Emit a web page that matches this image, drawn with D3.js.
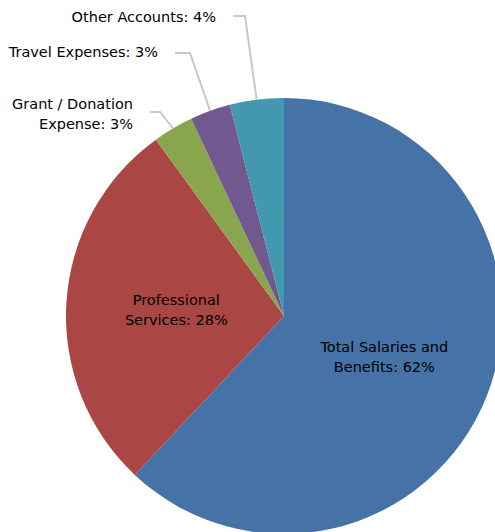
<!DOCTYPE html>
<html>
<head>
<meta charset="utf-8">
<script src="https://cdn.jsdelivr.net/npm/d3@7"></script>
<style>
  html, body { margin: 0; padding: 0; background: #fff; overflow: hidden; }
  svg text { font-family: "DejaVu Sans", Verdana, sans-serif; font-size: 14.5px; fill: #000; }
</style>
</head>
<body>
<svg id="chart" width="495" height="532"></svg>
<script>
// slices, clockwise from 12 o'clock
const categories = ['Total Salaries and Benefits', 'Professional Services', 'Grant / Donation Expense', 'Travel Expenses', 'Other Accounts'];
const values = [62, 28, 3, 3, 4];
const colors = ['#4572A7', '#AA4643', '#89A54E', '#71588F', '#4198AF'];
// label lines as drawn (split where the original wraps)
const labelLines = [
  ['Total Salaries and', 'Benefits: 62%'],
  ['Professional', 'Services: 28%'],
  ['Grant / Donation', 'Expense: 3%'],
  ['Travel Expenses: 3%'],
  ['Other Accounts: 4%']
];

const CX = 284, CY = 316, R = 218, LINE_H = 20;
// inside label centres, as fraction of radius
const INSIDE_R = 0.495;
// outside labels: elbow point of the leader line and text right edge
const outside = {
  2: { elbow: [160, 112], textX: 133, textY: 104 },
  3: { elbow: [190, 53], textX: 158, textY: 52 },
  4: { elbow: [245, 16], textX: 216, textY: 17 }
};

const svg = d3.select('#chart');
const g = svg.append('g').attr('transform', `translate(${CX},${CY})`);

const pie = d3.pie().sort(null).value(d => d)(values);
const arc = d3.arc().innerRadius(0).outerRadius(R);

g.selectAll('path.slice')
  .data(pie)
  .enter()
  .append('path')
  .attr('class', 'slice')
  .attr('d', arc)
  .attr('fill', (d, i) => colors[i]);

// inside labels
pie.forEach((d, i) => {
  if (outside[i]) return;
  const [x, y] = d3.arc().innerRadius(R * INSIDE_R).outerRadius(R * INSIDE_R).centroid(d);
  const lines = labelLines[i];
  const t = g.append('text').attr('text-anchor', 'middle');
  lines.forEach((s, k) => {
    t.append('tspan')
      .attr('x', x)
      .attr('y', y + 1 + (k - (lines.length - 1) / 2) * LINE_H)
      .attr('dy', '0.35em')
      .text(s);
  });
});

// outside labels with leader lines
pie.forEach((d, i) => {
  const o = outside[i];
  if (!o) return;
  const mid = (d.startAngle + d.endAngle) / 2;
  const ex = CX + R * Math.sin(mid), ey = CY - R * Math.cos(mid);
  svg.append('polyline')
    .attr('points', [[o.textX + 17, o.elbow[1]], o.elbow, [ex, ey]].map(p => p.join(',')).join(' '))
    .attr('fill', 'none')
    .attr('stroke', '#c8c8c8')
    .attr('stroke-width', 2);
  const lines = labelLines[i];
  const t = svg.append('text').attr('text-anchor', 'end');
  lines.forEach((s, k) => {
    t.append('tspan')
      .attr('x', o.textX)
      .attr('y', o.textY + k * LINE_H)
      .attr('dy', '0.35em')
      .text(s);
  });
});
</script>
</body>
</html>
